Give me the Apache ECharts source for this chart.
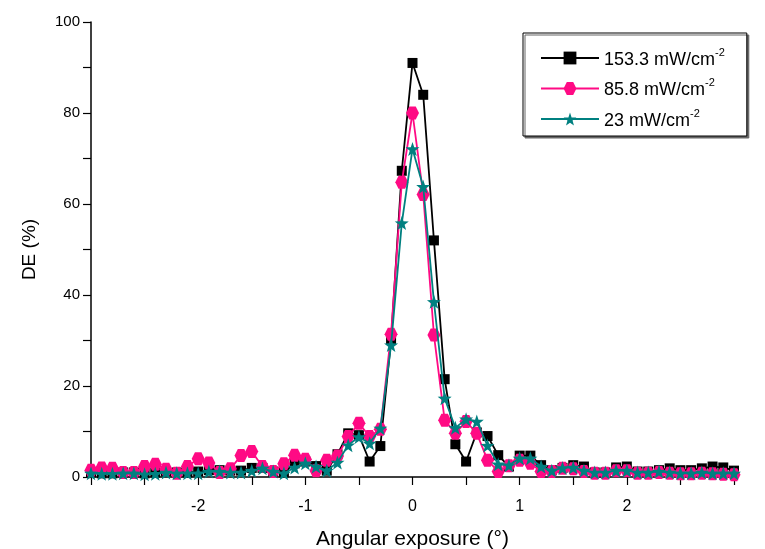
<!DOCTYPE html>
<html>
<head>
<meta charset="utf-8">
<title>DE vs angular exposure</title>
<script src="https://cdn.jsdelivr.net/npm/echarts@6/dist/echarts.min.js"></script>
<style>
  html, body { margin: 0; padding: 0; background: #fff; }
  #chart { width: 765px; height: 549px; }
</style>
</head>
<body>
<div id="chart"></div>
<script>
// Angular positions (degrees), 0.1° steps
const angles = [
  -3.0, -2.9, -2.8, -2.7, -2.6, -2.5, -2.4, -2.3, -2.2, -2.1,
  -2.0, -1.9, -1.8, -1.7, -1.6, -1.5, -1.4, -1.3, -1.2, -1.1,
  -1.0, -0.9, -0.8, -0.7, -0.6, -0.5, -0.4, -0.3, -0.2, -0.1,
   0.0,  0.1,  0.2,  0.3,  0.4,  0.5,  0.6,  0.7,  0.8,  0.9,
   1.0,  1.1,  1.2,  1.3,  1.4,  1.5,  1.6,  1.7,  1.8,  1.9,
   2.0,  2.1,  2.2,  2.3,  2.4,  2.5,  2.6,  2.7,  2.8,  2.9,
   3.0
];

// Diffraction efficiency (%) for each recording intensity
const de153 = [
  1.0, 0.8, 0.8, 1.0, 1.0, 0.8, 1.0, 1.2, 1.0, 1.0,
  1.2, 1.5, 1.5, 1.4, 1.4, 2.0, 2.0, 1.2, 1.0, 3.0,
  3.4, 2.4, 1.4, 5.0, 9.6, 9.2, 3.4, 6.8, 30.1, 67.3,
  91.0, 84.0, 52.0, 21.5, 7.2, 3.4, 9.8, 9.0, 4.8, 2.3,
  4.7, 4.7, 2.6, 1.5, 2.0, 2.6, 2.3, 1.0, 1.0, 2.1,
  2.3, 1.2, 1.2, 1.5, 1.9, 1.5, 1.5, 1.9, 2.3, 2.1,
  1.4
];
const de85 = [
  1.5, 2.0, 1.9, 1.0, 1.0, 2.3, 2.8, 1.7, 0.8, 2.3,
  4.0, 3.1, 1.0, 1.8, 4.7, 5.6, 2.3, 1.2, 2.9, 4.8,
  3.9, 1.4, 3.7, 4.6, 8.9, 11.8, 8.9, 10.5, 31.4, 64.8,
  80.0, 62.1, 31.2, 12.5, 9.6, 12.2, 9.6, 3.7, 1.2, 2.5,
  3.7, 3.0, 1.2, 1.2, 1.9, 1.8, 1.2, 0.8, 0.8, 1.4,
  1.4, 0.8, 0.8, 1.0, 0.8, 0.7, 0.7, 0.8, 0.7, 0.6,
  0.5
];
const de23 = [
  0.8, 0.7, 0.7, 0.8, 0.8, 0.6, 0.7, 1.0, 0.8, 0.8,
  0.8, 1.2, 1.2, 1.0, 1.0, 1.4, 1.9, 1.2, 0.8, 2.1,
  3.0, 2.3, 1.4, 3.2, 7.0, 8.8, 7.4, 10.7, 29.0, 55.8,
  72.1, 63.8, 38.5, 17.3, 10.8, 12.7, 12.2, 6.9, 2.8, 2.6,
  4.1, 4.1, 2.3, 1.4, 2.0, 2.1, 1.4, 1.0, 1.0, 1.4,
  1.4, 1.0, 1.0, 1.2, 1.0, 0.8, 0.8, 1.0, 0.8, 0.8,
  0.8
];

const seriesNames = ['153.3 mW/cm', '85.8 mW/cm', '23 mW/cm'];
const xTitle = 'Angular exposure (°)';
const yTitle = 'DE (%)';

const FONT = 'Liberation Sans, Arial, sans-serif';
const hexagon = 'path://M-1,0 L-0.5,-0.866 L0.5,-0.866 L1,0 L0.5,0.866 L-0.5,0.866 Z';
const star = 'path://M0,-10 L2.35,-3.24 L9.51,-3.09 L3.80,1.24 L5.88,8.09 L0,4.2 L-5.88,8.09 L-3.80,1.24 L-9.51,-3.09 L-2.35,-3.24 Z';

function pairs(ys) {
  return angles.map((a, i) => [a, ys[i]]);
}

const chart = echarts.init(document.getElementById('chart'), null, { renderer: 'canvas' });

chart.setOption({
  animation: false,
  backgroundColor: '#fff',
  textStyle: { fontFamily: FONT, color: '#000' },
  grid: { left: 91, right: 31, top: 22, bottom: 72, containLabel: false, outerBoundsMode: 'none' },
  legend: {
    orient: 'vertical',
    left: 523,
    top: 33,
    padding: [14, 22, 6, 17],
    itemGap: 8.5,
    itemWidth: 58,
    itemHeight: 16,
    selectedMode: false,
    backgroundColor: '#fff',
    borderColor: '#000',
    borderWidth: 1,
    borderRadius: 0,
    shadowColor: '#666',
    shadowBlur: 0,
    shadowOffsetX: 2,
    shadowOffsetY: 2,
    formatter: name => '{n|' + name + '}{sup|-2}',
    textStyle: {
      fontFamily: FONT,
      color: '#000',
      rich: {
        n: { fontSize: 18, fontFamily: FONT, color: '#000', verticalAlign: 'bottom', lineHeight: 22 },
        sup: { fontSize: 11, fontFamily: FONT, color: '#000', verticalAlign: 'top', lineHeight: 22 }
      }
    },
    data: seriesNames
  },
  xAxis: {
    type: 'value',
    min: -3,
    max: 3,
    interval: 0.5,
    name: xTitle,
    nameLocation: 'middle',
    nameGap: 52,
    nameTextStyle: { fontSize: 21, fontFamily: FONT, color: '#000' },
    axisLine: { onZero: false, lineStyle: { color: '#000', width: 1.5 } },
    axisTick: { inside: false, length: 8, lineStyle: { color: '#000', width: 1.2 } },
    axisLabel: {
      margin: 22,
      fontSize: 16,
      fontFamily: FONT,
      color: '#000',
      showMinLabel: true,
      showMaxLabel: true,
      formatter: v => {
        const r = Math.round(v);
        return (Math.abs(v - r) < 1e-6 && Math.abs(r) < 3) ? String(r) : '';
      }
    },
    splitLine: { show: false }
  },
  yAxis: {
    type: 'value',
    min: 0,
    max: 100,
    interval: 10,
    name: yTitle,
    nameLocation: 'middle',
    nameGap: 52,
    nameTextStyle: { fontSize: 19, fontFamily: FONT, color: '#000' },
    axisLine: { show: true, onZero: false, lineStyle: { color: '#000', width: 1.5 } },
    axisTick: { show: true, inside: false, length: 8, lineStyle: { color: '#000', width: 1.2 } },
    axisLabel: {
      margin: 11,
      fontSize: 15,
      fontFamily: FONT,
      color: '#000',
      formatter: v => (Math.round(v) % 20 === 0 ? String(Math.round(v)) : '')
    },
    splitLine: { show: false }
  },
  series: [
    {
      name: seriesNames[0],
      type: 'line',
      data: pairs(de153),
      symbol: 'rect',
      symbolSize: 10,
      color: '#000000',
      lineStyle: { color: '#000000', width: 1.8 },
      itemStyle: { color: '#000000' },
      z: 2
    },
    {
      name: seriesNames[1],
      type: 'line',
      data: pairs(de85),
      symbol: hexagon,
      symbolSize: 13,
      color: '#ff0a84',
      lineStyle: { color: '#ff0a84', width: 1.8 },
      itemStyle: { color: '#ff0a84' },
      z: 3
    },
    {
      name: seriesNames[2],
      type: 'line',
      data: pairs(de23),
      symbol: star,
      symbolSize: 14,
      color: '#008080',
      lineStyle: { color: '#008080', width: 1.8 },
      itemStyle: { color: '#008080' },
      z: 4
    }
  ]
});
</script>
</body>
</html>
